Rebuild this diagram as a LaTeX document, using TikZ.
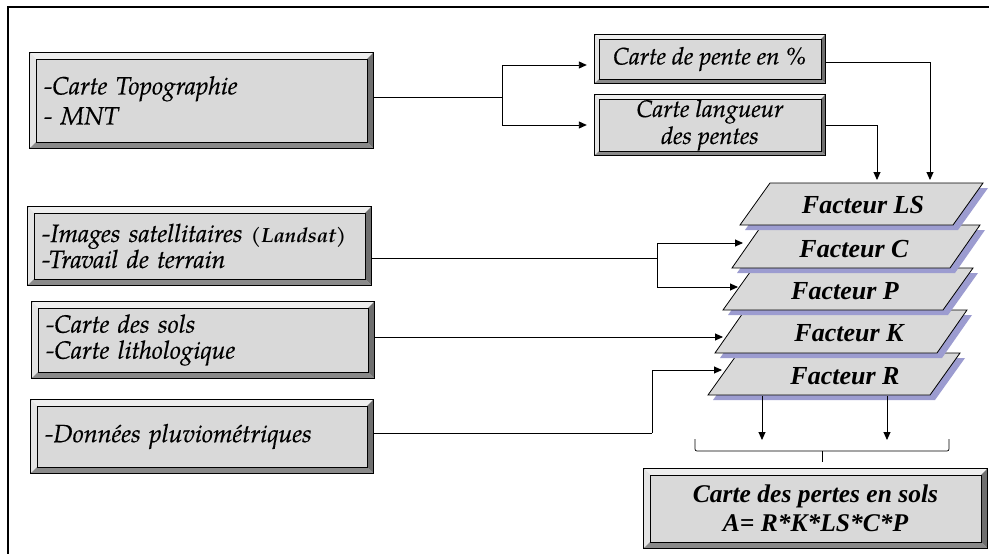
\documentclass[tikz,border=0pt]{standalone}
\usepackage{fontspec}
\setmainfont{TeX Gyre Pagella}[ItalicFeatures={FakeBold=0.5}]
\newfontfamily\timesf{Liberation Serif}
\usetikzlibrary{calc,arrows.meta}
\definecolor{boxgray}{HTML}{D9D9D9}
\definecolor{bvtop}{HTML}{EEEEEE}
\definecolor{bvleft}{HTML}{E4E4E4}
\definecolor{bvright}{HTML}{6E6E6E}
\definecolor{bvbottom}{HTML}{8A8A8A}
\definecolor{shadowblue}{HTML}{9C9CD0}
\newcommand\bevel[2]{%
  \fill[bvtop] (#1.north west) -- (#1.north east) -- ($(#1.north east)+(-#2,#2)$) -- ($(#1.north west)+(#2,#2)$) -- cycle;
  \fill[bvleft] (#1.north west) -- ($(#1.north west)+(#2,#2)$) -- ($(#1.south west)+(#2,-#2)$) -- (#1.south west) -- cycle;
  \fill[bvright] (#1.north east) -- (#1.south east) -- ($(#1.south east)+(-#2,-#2)$) -- ($(#1.north east)+(-#2,#2)$) -- cycle;
  \fill[bvbottom] (#1.south west) -- (#1.south east) -- ($(#1.south east)+(-#2,-#2)$) -- ($(#1.south west)+(#2,-#2)$) -- cycle;
  \draw[line width=0.6pt] ($(#1.north west)+(#2,#2)$) rectangle ($(#1.south east)+(-#2,-#2)$);
  \draw[line width=0.8pt] (#1.north west) rectangle (#1.south east);
}
% name, bottom-left x, bottom-right x, top y, bottom y, text x, text y, text
\newcommand\facteur[8]{%
  \fill[shadowblue] (#2+5,#5+5) -- (#3+5,#5+5) -- (#3+35,#4+5) -- (#2+35,#4+5) -- cycle;
  \draw[line width=0.8pt, fill=boxgray] (#2,#5) -- (#3,#5) -- (#3+30,#4) -- (#2+30,#4) -- cycle;
  \node[factxt] (#1) at (#6,#7) {#8};
}
\begin{document}
\begin{tikzpicture}[x=1pt, y=-1pt,
  lbox/.style={fill=boxgray, draw=black, inner xsep=14pt, inner ysep=0pt, align=left,
    font=\fontsize{25pt}{26pt}\selectfont\itshape},
  pbox/.style={fill=boxgray, draw=black, inner sep=0pt, align=center,
    font=\fontsize{24pt}{27pt}\selectfont\itshape},
  fbox/.style={fill=boxgray, draw=black, inner sep=0pt, align=center,
    font=\fontsize{25.5pt}{29pt}\selectfont\timesf\bfseries\itshape},
  factxt/.style={inner sep=0pt, font=\fontsize{26pt}{30pt}\selectfont\timesf\bfseries\itshape},
  arr/.style={line width=0.9pt, -{Triangle[length=8pt,width=7pt]}},
  ln/.style={line width=0.9pt}]
\useasboundingbox (0,0) rectangle (989,554);
\fill[white] (0,0) rectangle (989,554);
\draw[line width=2.5pt] (8,554) -- (8,7) -- (989,7);

% left input boxes
\node[lbox, minimum width=343pt, minimum height=95pt, text width=315pt,
  font=\fontsize{25pt}{30pt}\selectfont\itshape] (topo) at (201.5,100.5)
  {-Carte Topographie\\- MNT};
\bevel{topo}{6}
\node[lbox, minimum width=343pt, minimum height=78pt, text width=315pt] (imgs) at (199.5,246)
  {-Images satellitaires {\fontsize{20.5pt}{21pt}\selectfont\bfseries(Landsat)}\\-Travail de terrain};
\bevel{imgs}{6}
\node[lbox, minimum width=342pt, minimum height=76pt, text width=314pt] (sols) at (203,340)
  {-Carte des sols\\-Carte lithologique};
\bevel{sols}{6}
\node[lbox, minimum width=342pt, minimum height=73pt, text width=314pt] (pluie) at (202,436.5)
  {-Données pluviométriques};
\bevel{pluie}{6}

% slope boxes
\node[pbox, minimum width=230pt, minimum height=48pt] (pente) at (710,59) {Carte de pente en \%};
\bevel{pente}{4}
\node[pbox, minimum width=230pt, minimum height=60pt] (lpente) at (710,125) {Carte langueur\\des pentes};
\bevel{lpente}{4}

% factor layers (bottom first)
\facteur{fR}{708}{930}{353}{395}{845}{376}{Facteur R}
\facteur{fK}{715}{937}{310}{353}{849}{333}{Facteur K}
\facteur{fP}{723}{943}{268}{310}{845}{291}{Facteur P}
\facteur{fC}{732}{950}{225}{268}{854}{249}{Facteur C}
\facteur{fLS}{740}{953}{183}{225}{863}{205}{Facteur LS}

% result box
\node[fbox, minimum width=343pt, minimum height=79pt] (res) at (815.5,508.5)
  {Carte des pertes en sols\\A= R*K*LS*C*P};
\bevel{res}{6}

% junctions and arrow ends
\coordinate (j1) at (502,97);
\coordinate (j2) at (657,258);
\coordinate (j4) at (652,433);
\coordinate (inLSa) at (877,180);
\coordinate (inLSb) at (930,180);
\coordinate (inC) at (743,243);
\coordinate (inP) at (738,287);
\coordinate (inK) at (723,337);
\coordinate (inR) at (722,370);
\coordinate (oR1) at (762,396);
\coordinate (oR2) at (887,396);
\coordinate (eR1) at (762,440);
\coordinate (eR2) at (887,440);
\coordinate (brc) at (822,451);

\draw[ln] (topo.east |- j1) -- (j1);
\draw[arr] (j1) |- ($(pente.west)+(-8,6)$);
\draw[arr] (j1) |- ($(lpente.west)+(-8,0)$);
\draw[arr] ($(pente.east)+(0,3)$) -| (inLSb);
\draw[arr] (lpente.east) -| (inLSa);

\draw[ln] (imgs.east |- j2) -- (j2);
\draw[arr] (j2) |- (inC);
\draw[arr] (j2) |- (inP);
\draw[arr] (sols.east |- inK) -- (inK);
\draw[ln] (pluie.east |- j4) -- (j4);
\draw[arr] (j4) |- (inR);

\draw[arr] (oR1) -- (eR1);
\draw[arr] (oR2) -- (eR2);
\draw[line width=0.7pt, rounded corners=2pt] (695,439) -- (695,451) -- (949,451) -- (949,439);
\draw[line width=0.7pt] (brc) -- ++(0,11);
\end{tikzpicture}
\end{document}
